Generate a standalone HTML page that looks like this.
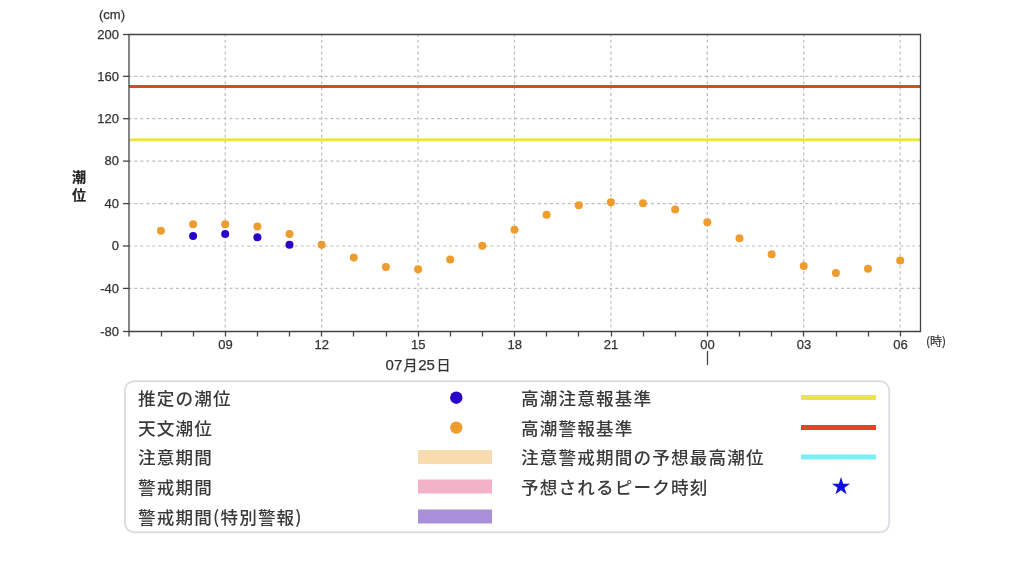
<!DOCTYPE html>
<html lang="ja"><head><meta charset="utf-8"><title>潮位グラフ</title>
<style>html,body{margin:0;padding:0;background:#fff;width:1024px;height:565px;overflow:hidden;position:relative}</style>
</head><body>
<svg width="1024" height="565" viewBox="0 0 1024 565" style="position:absolute;left:0;top:0;will-change:transform">
<line x1="128.5" y1="76.3" x2="920" y2="76.3" stroke="#bdbdbd" stroke-width="1.2" stroke-dasharray="2.9687 2.9687"/>
<line x1="128.5" y1="118.7" x2="920" y2="118.7" stroke="#bdbdbd" stroke-width="1.2" stroke-dasharray="2.9687 2.9687"/>
<line x1="128.5" y1="161.1" x2="920" y2="161.1" stroke="#bdbdbd" stroke-width="1.2" stroke-dasharray="2.9687 2.9687"/>
<line x1="128.5" y1="203.6" x2="920" y2="203.6" stroke="#bdbdbd" stroke-width="1.2" stroke-dasharray="2.9687 2.9687"/>
<line x1="128.5" y1="246.0" x2="920" y2="246.0" stroke="#bdbdbd" stroke-width="1.2" stroke-dasharray="2.9687 2.9687"/>
<line x1="128.5" y1="288.4" x2="920" y2="288.4" stroke="#bdbdbd" stroke-width="1.2" stroke-dasharray="2.9687 2.9687"/>
<line x1="225.22" y1="33.7" x2="225.22" y2="331.5" stroke="#bdbdbd" stroke-width="1.2" stroke-dasharray="2.9687 2.9687"/>
<line x1="321.64" y1="33.7" x2="321.64" y2="331.5" stroke="#bdbdbd" stroke-width="1.2" stroke-dasharray="2.9687 2.9687"/>
<line x1="418.06" y1="33.7" x2="418.06" y2="331.5" stroke="#bdbdbd" stroke-width="1.2" stroke-dasharray="2.9687 2.9687"/>
<line x1="514.48" y1="33.7" x2="514.48" y2="331.5" stroke="#bdbdbd" stroke-width="1.2" stroke-dasharray="2.9687 2.9687"/>
<line x1="610.9" y1="33.7" x2="610.9" y2="331.5" stroke="#bdbdbd" stroke-width="1.2" stroke-dasharray="2.9687 2.9687"/>
<line x1="707.32" y1="33.7" x2="707.32" y2="331.5" stroke="#bdbdbd" stroke-width="1.2" stroke-dasharray="2.9687 2.9687"/>
<line x1="803.74" y1="33.7" x2="803.74" y2="331.5" stroke="#bdbdbd" stroke-width="1.2" stroke-dasharray="2.9687 2.9687"/>
<line x1="900.16" y1="33.7" x2="900.16" y2="331.5" stroke="#bdbdbd" stroke-width="1.2" stroke-dasharray="2.9687 2.9687"/>
<line x1="129.0" y1="139.8" x2="920" y2="139.8" stroke="#ebe44a" stroke-width="3"/>
<line x1="129.0" y1="86.5" x2="920" y2="86.5" stroke="#e0452a" stroke-width="3"/>
<path d="M129.0 34.5 H920.5 V331.5 H129.0 Z" fill="none" stroke="#444" stroke-width="1.3"/>
<line x1="123" y1="34.5" x2="129.0" y2="34.5" stroke="#444" stroke-width="1.3"/>
<text x="119" y="38.8" text-anchor="end" font-family='"Liberation Sans", "Noto Sans CJK JP", sans-serif' font-size="13" fill="#333" stroke="#333" stroke-width="0.25">200</text>
<line x1="123" y1="76.3" x2="129.0" y2="76.3" stroke="#444" stroke-width="1.3"/>
<text x="119" y="80.6" text-anchor="end" font-family='"Liberation Sans", "Noto Sans CJK JP", sans-serif' font-size="13" fill="#333" stroke="#333" stroke-width="0.25">160</text>
<line x1="123" y1="118.7" x2="129.0" y2="118.7" stroke="#444" stroke-width="1.3"/>
<text x="119" y="123.0" text-anchor="end" font-family='"Liberation Sans", "Noto Sans CJK JP", sans-serif' font-size="13" fill="#333" stroke="#333" stroke-width="0.25">120</text>
<line x1="123" y1="161.1" x2="129.0" y2="161.1" stroke="#444" stroke-width="1.3"/>
<text x="119" y="165.4" text-anchor="end" font-family='"Liberation Sans", "Noto Sans CJK JP", sans-serif' font-size="13" fill="#333" stroke="#333" stroke-width="0.25">80</text>
<line x1="123" y1="203.6" x2="129.0" y2="203.6" stroke="#444" stroke-width="1.3"/>
<text x="119" y="207.9" text-anchor="end" font-family='"Liberation Sans", "Noto Sans CJK JP", sans-serif' font-size="13" fill="#333" stroke="#333" stroke-width="0.25">40</text>
<line x1="123" y1="246.0" x2="129.0" y2="246.0" stroke="#444" stroke-width="1.3"/>
<text x="119" y="250.3" text-anchor="end" font-family='"Liberation Sans", "Noto Sans CJK JP", sans-serif' font-size="13" fill="#333" stroke="#333" stroke-width="0.25">0</text>
<line x1="123" y1="288.4" x2="129.0" y2="288.4" stroke="#444" stroke-width="1.3"/>
<text x="119" y="292.7" text-anchor="end" font-family='"Liberation Sans", "Noto Sans CJK JP", sans-serif' font-size="13" fill="#333" stroke="#333" stroke-width="0.25">-40</text>
<line x1="123" y1="331.5" x2="129.0" y2="331.5" stroke="#444" stroke-width="1.3"/>
<text x="119" y="335.8" text-anchor="end" font-family='"Liberation Sans", "Noto Sans CJK JP", sans-serif' font-size="13" fill="#333" stroke="#333" stroke-width="0.25">-80</text>
<line x1="129.0" y1="331.5" x2="129.0" y2="336.5" stroke="#444" stroke-width="1.3"/>
<line x1="161.5" y1="331.5" x2="161.5" y2="336.5" stroke="#444" stroke-width="1.3"/>
<line x1="193.5" y1="331.5" x2="193.5" y2="336.5" stroke="#444" stroke-width="1.3"/>
<line x1="225.5" y1="331.5" x2="225.5" y2="336.5" stroke="#444" stroke-width="1.3"/>
<line x1="257.5" y1="331.5" x2="257.5" y2="336.5" stroke="#444" stroke-width="1.3"/>
<line x1="289.5" y1="331.5" x2="289.5" y2="336.5" stroke="#444" stroke-width="1.3"/>
<line x1="321.5" y1="331.5" x2="321.5" y2="336.5" stroke="#444" stroke-width="1.3"/>
<line x1="353.5" y1="331.5" x2="353.5" y2="336.5" stroke="#444" stroke-width="1.3"/>
<line x1="386.5" y1="331.5" x2="386.5" y2="336.5" stroke="#444" stroke-width="1.3"/>
<line x1="418.5" y1="331.5" x2="418.5" y2="336.5" stroke="#444" stroke-width="1.3"/>
<line x1="450.5" y1="331.5" x2="450.5" y2="336.5" stroke="#444" stroke-width="1.3"/>
<line x1="482.5" y1="331.5" x2="482.5" y2="336.5" stroke="#444" stroke-width="1.3"/>
<line x1="514.5" y1="331.5" x2="514.5" y2="336.5" stroke="#444" stroke-width="1.3"/>
<line x1="546.5" y1="331.5" x2="546.5" y2="336.5" stroke="#444" stroke-width="1.3"/>
<line x1="578.5" y1="331.5" x2="578.5" y2="336.5" stroke="#444" stroke-width="1.3"/>
<line x1="611.5" y1="331.5" x2="611.5" y2="336.5" stroke="#444" stroke-width="1.3"/>
<line x1="643.5" y1="331.5" x2="643.5" y2="336.5" stroke="#444" stroke-width="1.3"/>
<line x1="675.5" y1="331.5" x2="675.5" y2="336.5" stroke="#444" stroke-width="1.3"/>
<line x1="707.5" y1="331.5" x2="707.5" y2="336.5" stroke="#444" stroke-width="1.3"/>
<line x1="739.5" y1="331.5" x2="739.5" y2="336.5" stroke="#444" stroke-width="1.3"/>
<line x1="771.5" y1="331.5" x2="771.5" y2="336.5" stroke="#444" stroke-width="1.3"/>
<line x1="803.5" y1="331.5" x2="803.5" y2="336.5" stroke="#444" stroke-width="1.3"/>
<line x1="836.5" y1="331.5" x2="836.5" y2="336.5" stroke="#444" stroke-width="1.3"/>
<line x1="868.5" y1="331.5" x2="868.5" y2="336.5" stroke="#444" stroke-width="1.3"/>
<line x1="900.5" y1="331.5" x2="900.5" y2="336.5" stroke="#444" stroke-width="1.3"/>
<text x="225.4" y="349" text-anchor="middle" font-family='"Liberation Sans", "Noto Sans CJK JP", sans-serif' font-size="13" fill="#333" stroke="#333" stroke-width="0.25">09</text>
<text x="321.8" y="349" text-anchor="middle" font-family='"Liberation Sans", "Noto Sans CJK JP", sans-serif' font-size="13" fill="#333" stroke="#333" stroke-width="0.25">12</text>
<text x="418.3" y="349" text-anchor="middle" font-family='"Liberation Sans", "Noto Sans CJK JP", sans-serif' font-size="13" fill="#333" stroke="#333" stroke-width="0.25">15</text>
<text x="514.7" y="349" text-anchor="middle" font-family='"Liberation Sans", "Noto Sans CJK JP", sans-serif' font-size="13" fill="#333" stroke="#333" stroke-width="0.25">18</text>
<text x="611.1" y="349" text-anchor="middle" font-family='"Liberation Sans", "Noto Sans CJK JP", sans-serif' font-size="13" fill="#333" stroke="#333" stroke-width="0.25">21</text>
<text x="707.5" y="349" text-anchor="middle" font-family='"Liberation Sans", "Noto Sans CJK JP", sans-serif' font-size="13" fill="#333" stroke="#333" stroke-width="0.25">00</text>
<text x="803.9" y="349" text-anchor="middle" font-family='"Liberation Sans", "Noto Sans CJK JP", sans-serif' font-size="13" fill="#333" stroke="#333" stroke-width="0.25">03</text>
<text x="900.4" y="349" text-anchor="middle" font-family='"Liberation Sans", "Noto Sans CJK JP", sans-serif' font-size="13" fill="#333" stroke="#333" stroke-width="0.25">06</text>
<line x1="707.5" y1="351" x2="707.5" y2="365" stroke="#444" stroke-width="1.3"/>
<text x="112" y="19" text-anchor="middle" font-family='"Liberation Sans", "Noto Sans CJK JP", sans-serif' font-size="13" fill="#333" stroke="#333" stroke-width="0.25">(cm)</text>
<text x="936" y="345.5" text-anchor="middle" font-family='"Noto Sans CJK JP", "Liberation Sans", sans-serif' font-size="12" fill="#333" stroke="#333" stroke-width="0.2">(時)</text>
<text x="385.6" y="369.7" font-family='"Liberation Sans", "Noto Sans CJK JP", sans-serif' font-size="15" fill="#333" stroke="#333" stroke-width="0.25">07<tspan dx="1.3" font-size="14">月</tspan><tspan dx="0.6">25</tspan><tspan dx="1.6" font-size="14">日</tspan></text>
<text x="79" y="181.6" text-anchor="middle" font-family='"Noto Sans CJK JP", "Liberation Sans", sans-serif' font-size="14" font-weight="bold" fill="#222" stroke="#222" stroke-width="0.2">潮</text>
<text x="79" y="200" text-anchor="middle" font-family='"Noto Sans CJK JP", "Liberation Sans", sans-serif' font-size="14" font-weight="bold" fill="#222" stroke="#222" stroke-width="0.2">位</text>
<circle cx="160.9" cy="230.7" r="4" fill="#ef9c2f"/>
<circle cx="193.1" cy="224.3" r="4" fill="#ef9c2f"/>
<circle cx="225.2" cy="224.3" r="4" fill="#ef9c2f"/>
<circle cx="257.4" cy="226.6" r="4" fill="#ef9c2f"/>
<circle cx="289.5" cy="234" r="4" fill="#ef9c2f"/>
<circle cx="321.6" cy="244.8" r="4" fill="#ef9c2f"/>
<circle cx="353.8" cy="257.5" r="4" fill="#ef9c2f"/>
<circle cx="385.9" cy="266.9" r="4" fill="#ef9c2f"/>
<circle cx="418.1" cy="269.2" r="4" fill="#ef9c2f"/>
<circle cx="450.2" cy="259.6" r="4" fill="#ef9c2f"/>
<circle cx="482.3" cy="245.8" r="4" fill="#ef9c2f"/>
<circle cx="514.5" cy="229.8" r="4" fill="#ef9c2f"/>
<circle cx="546.6" cy="214.8" r="4" fill="#ef9c2f"/>
<circle cx="578.8" cy="205.2" r="4" fill="#ef9c2f"/>
<circle cx="610.9" cy="202.3" r="4" fill="#ef9c2f"/>
<circle cx="643.0" cy="203.3" r="4" fill="#ef9c2f"/>
<circle cx="675.2" cy="209.5" r="4" fill="#ef9c2f"/>
<circle cx="707.3" cy="222.2" r="4" fill="#ef9c2f"/>
<circle cx="739.5" cy="238.2" r="4" fill="#ef9c2f"/>
<circle cx="771.6" cy="254.2" r="4" fill="#ef9c2f"/>
<circle cx="803.7" cy="265.9" r="4" fill="#ef9c2f"/>
<circle cx="835.9" cy="273.1" r="4" fill="#ef9c2f"/>
<circle cx="868.0" cy="268.8" r="4" fill="#ef9c2f"/>
<circle cx="900.2" cy="260.6" r="4" fill="#ef9c2f"/>
<circle cx="193.1" cy="236" r="4" fill="#2a00c8"/>
<circle cx="225.2" cy="234" r="4" fill="#2a00c8"/>
<circle cx="257.4" cy="237.3" r="4" fill="#2a00c8"/>
<circle cx="289.5" cy="244.8" r="4" fill="#2a00c8"/>
<rect x="125" y="381.2" width="764.2" height="151" rx="9" ry="9" fill="#fff" stroke="#dddde3" stroke-width="2"/>
<text x="138" y="404.8" font-family='"Noto Sans CJK JP", "Liberation Sans", sans-serif' font-size="17.6" letter-spacing="1.15" font-weight="500" fill="#3a3a3a">推定の潮位</text>
<text x="138" y="434.5" font-family='"Noto Sans CJK JP", "Liberation Sans", sans-serif' font-size="17.6" letter-spacing="1.15" font-weight="500" fill="#3a3a3a">天文潮位</text>
<text x="138" y="464.2" font-family='"Noto Sans CJK JP", "Liberation Sans", sans-serif' font-size="17.6" letter-spacing="1.15" font-weight="500" fill="#3a3a3a">注意期間</text>
<text x="138" y="493.9" font-family='"Noto Sans CJK JP", "Liberation Sans", sans-serif' font-size="17.6" letter-spacing="1.15" font-weight="500" fill="#3a3a3a">警戒期間</text>
<text x="138" y="523.6" font-family='"Noto Sans CJK JP", "Liberation Sans", sans-serif' font-size="17.6" letter-spacing="1.15" font-weight="500" fill="#3a3a3a">警戒期間(特別警報)</text>
<text x="521" y="404.8" font-family='"Noto Sans CJK JP", "Liberation Sans", sans-serif' font-size="17.6" letter-spacing="1.15" font-weight="500" fill="#3a3a3a">高潮注意報基準</text>
<text x="521" y="434.5" font-family='"Noto Sans CJK JP", "Liberation Sans", sans-serif' font-size="17.6" letter-spacing="1.15" font-weight="500" fill="#3a3a3a">高潮警報基準</text>
<text x="521" y="464.2" font-family='"Noto Sans CJK JP", "Liberation Sans", sans-serif' font-size="17.6" letter-spacing="1.15" font-weight="500" fill="#3a3a3a">注意警戒期間の予想最高潮位</text>
<text x="521" y="493.9" font-family='"Noto Sans CJK JP", "Liberation Sans", sans-serif' font-size="17.6" letter-spacing="1.15" font-weight="500" fill="#3a3a3a">予想されるピーク時刻</text>
<circle cx="456.3" cy="397.7" r="6.2" fill="#2a00c8"/>
<circle cx="456.3" cy="427.6" r="6.2" fill="#ef9c2f"/>
<rect x="418" y="450" width="74" height="14" fill="#f8dcb0"/>
<rect x="418" y="479.5" width="74" height="14" fill="#f4b2c8"/>
<rect x="418" y="509.5" width="74" height="14" fill="#a890d8"/>
<rect x="801" y="395" width="75" height="5" fill="#ece44c"/>
<rect x="801" y="425" width="75" height="5" fill="#e0452a"/>
<rect x="801" y="454.5" width="75" height="5" fill="#78f0f8"/>
<polygon points="841.00,477.10 843.13,483.66 850.04,483.66 844.45,487.72 846.58,494.29 841.00,490.23 835.42,494.29 837.55,487.72 831.96,483.66 838.87,483.66" fill="#0c0ce0"/>
</svg>
</body></html>
